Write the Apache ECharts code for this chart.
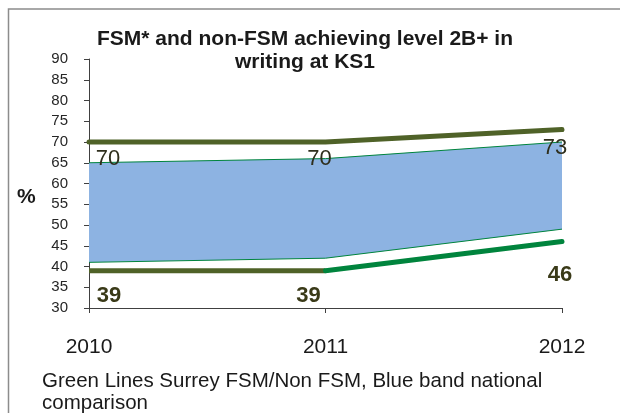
<!DOCTYPE html>
<html><head><meta charset="utf-8">
<script src="https://cdn.jsdelivr.net/npm/echarts@6/dist/echarts.min.js"></script>
<style>html,body{margin:0;padding:0;background:#fff}#c{width:620px;height:413px}</style>
</head><body><div id="c"></div>
<script>
// ---- data ----
const years = ['2010', '2011', '2012'];
const nonFsm = [70, 70, 73];          // Surrey non-FSM
const fsm = [39, 39, 46];             // Surrey FSM
const nationalLow = [41, 42, 49];     // blue band lower edge
const nationalHigh = [65, 66, 70];    // blue band upper edge
const yMin = 30, yMax = 90, yStep = 5;
const titleText = 'FSM* and non-FSM achieving level 2B+ in\nwriting at KS1';
const noteText = 'Green Lines Surrey FSM/Non FSM, Blue band national\ncomparison';

// label placement (styling only)
const nonFsmLabelOffsets = [[19, 17], [-6, 17], [-7, 18]];
const fsmLabelOffsets = [[20, 25], [-17, 25], [-2, 33]];

const FONT = 'Liberation Sans, Arial, sans-serif';
const OLIVE = '#4F6228';
const GREEN = '#00843D';
const BLUE = '#8DB3E2';

const chart = echarts.init(document.getElementById('c'), null, {renderer: 'canvas'});

const olivePart = fsm.map((v, i) => i <= 1 ? v : '-');
const greenPart = fsm.map((v, i) => i >= 1 ? v : '-');
const bandWidth = nationalHigh.map((v, i) => v - nationalLow[i]);

function labelPoints(values, offsets, style) {
  return values.map((v, i) => ({
    value: [years[i], v],
    label: Object.assign({show: true, position: 'inside', offset: offsets[i], formatter: String(v),
      textBorderWidth: 0, opacity: 1}, style)
  }));
}

chart.setOption({
  animation: false,
  backgroundColor: '#fff',
  title: {
    text: titleText,
    left: 300, top: 23, textAlign: 'center',
    textStyle: {fontFamily: FONT, fontSize: 21, fontWeight: 'bold', color: '#1a1a1a', lineHeight: 23}
  },
  grid: {left: 89, right: 58, top: 59, bottom: 105},
  xAxis: {
    type: 'category', data: years, boundaryGap: false,
    axisLine: {lineStyle: {color: '#404040', width: 1}},
    axisTick: {show: true, length: 5, lineStyle: {color: '#404040'}},
    axisLabel: {fontFamily: FONT, fontSize: 21, color: '#1a1a1a', margin: 29}
  },
  yAxis: {
    type: 'value', min: yMin, max: yMax, interval: yStep,
    splitLine: {show: false},
    axisLine: {show: true, lineStyle: {color: '#404040', width: 1}},
    axisTick: {show: true, length: 5, lineStyle: {color: '#404040'}},
    axisLabel: {fontFamily: FONT, fontSize: 15, color: '#262626', margin: 21}
  },
  graphic: [
    {type: 'polyline', shape: {points: [[8.5, 415], [8.5, 9], [625, 9]]}, style: {stroke: '#8c8c8c', lineWidth: 1.5, fill: null}, silent: true},
    {type: 'text', left: 17, top: 187, style: {text: '%', font: 'bold 21px ' + FONT, fill: '#1a1a1a'}},
    {type: 'text', left: 42, top: 370, style: {text: noteText, font: '20.5px ' + FONT, fill: '#1a1a1a', lineHeight: 22}}
  ],
  series: [
    {
      type: 'line', stack: 'band', data: nationalLow, showSymbol: false, symbol: 'none',
      lineStyle: {color: GREEN, width: 1}, z: 2
    },
    {
      type: 'line', stack: 'band', data: bandWidth, showSymbol: false, symbol: 'none',
      lineStyle: {color: GREEN, width: 1}, areaStyle: {color: BLUE, opacity: 1}, z: 2
    },
    {
      type: 'line', data: nonFsm, showSymbol: false, symbol: 'none',
      lineStyle: {color: OLIVE, width: 5, cap: 'round', join: 'round'}, z: 3
    },
    {
      type: 'line', data: olivePart, showSymbol: false, symbol: 'none', connectNulls: false,
      lineStyle: {color: OLIVE, width: 5, cap: 'butt'}, z: 3
    },
    {
      type: 'line', data: greenPart, showSymbol: false, symbol: 'none', connectNulls: false,
      lineStyle: {color: GREEN, width: 5, cap: 'round'}, z: 4
    },
    {
      type: 'scatter', symbolSize: 1, itemStyle: {color: 'rgba(0,0,0,0)'}, z: 5,
      data: labelPoints(nonFsm, nonFsmLabelOffsets, {fontFamily: FONT, fontSize: 22, color: '#2e2e1c'})
    },
    {
      type: 'scatter', symbolSize: 1, itemStyle: {color: 'rgba(0,0,0,0)'}, z: 5,
      data: labelPoints(fsm, fsmLabelOffsets, {fontFamily: FONT, fontSize: 22, fontWeight: 'bold', color: '#3a3a18'})
    }
  ]
});
</script></body></html>
